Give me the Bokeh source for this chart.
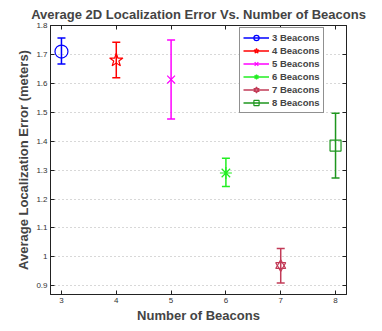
from bokeh.plotting import figure
from bokeh.models import Range1d, FixedTicker, Legend, LegendItem, LinearAxis
from bokeh.embed import file_html
from bokeh.resources import INLINE

# ---- data ----
beacons = [3, 4, 5, 6, 7, 8]
mean_err = [1.710, 1.680, 1.613, 1.290, 0.970, 1.385]
upper_err = [1.757, 1.742, 1.750, 1.341, 1.029, 1.497]
lower_err = [1.667, 1.619, 1.477, 1.243, 0.910, 1.273]
series_labels = ["3 Beacons", "4 Beacons", "5 Beacons", "6 Beacons", "7 Beacons", "8 Beacons"]
x_ticks = [3, 4, 5, 6, 7, 8]
y_ticks = [0.9, 1.0, 1.1, 1.2, 1.3, 1.4, 1.5, 1.6, 1.7, 1.8]
y_tick_labels = ["0.9", "1", "1.1", "1.2", "1.3", "1.4", "1.5", "1.6", "1.7", "1.8"]

colors = ["#0000ff", "#ff0000", "#ff00ff", "#22ee22", "#c23b57", "#1e961e"]
markers = [["circle"], ["star"], ["x"], ["asterisk"], ["triangle", "inverted_triangle"], ["square"]]
msizes = [13, 14, 11, 12, 10, 11]

FONT = "Liberation Sans"

p = figure(width=382, height=331, output_backend="svg", toolbar_location=None,
           x_range=Range1d(2.8, 8.2), y_range=Range1d(0.87, 1.8),
           min_border_left=50, min_border_right=36, min_border_top=25, min_border_bottom=37)

p.title.text = "Average 2D Localization Error Vs. Number of Beacons"
p.title.text_font = FONT
p.title.text_font_size = "13px"
p.title.text_font_style = "bold"
p.title.align = "center"
p.title.standoff = 8

p.xaxis.ticker = FixedTicker(ticks=x_ticks)
p.yaxis.ticker = FixedTicker(ticks=y_ticks)
p.yaxis.major_label_overrides = {t: l for t, l in zip(y_ticks, y_tick_labels)}
p.xaxis.axis_label = "Number of Beacons"
p.yaxis.axis_label = "Average Localization Error (meters)"
for ax in (p.xaxis[0], p.yaxis[0]):
    ax.axis_label_text_font = FONT
    ax.axis_label_text_font_size = "13px"
    ax.axis_label_text_font_style = "bold"
    ax.axis_label_standoff = 2
    ax.major_label_text_font = FONT
    ax.major_label_text_font_size = "8px"
    ax.major_label_text_color = "#333333"
    ax.major_label_standoff = 3
    ax.major_tick_in = 4
    ax.major_tick_out = 0
    ax.minor_tick_in = 0
    ax.minor_tick_out = 0
    ax.axis_line_color = "#222222"
    ax.major_tick_line_color = "#222222"

for loc, rng_ticks in (("right", y_ticks), ("above", x_ticks)):
    ax = LinearAxis(ticker=FixedTicker(ticks=rng_ticks),
                    major_label_overrides={t: "" for t in rng_ticks},
                    major_tick_in=4, major_tick_out=0, minor_tick_in=0, minor_tick_out=0,
                    major_label_standoff=0, major_label_text_font_size="1px",
                    axis_line_color="#222222", major_tick_line_color="#222222")
    p.add_layout(ax, loc)

p.xgrid.grid_line_color = None
p.ygrid.grid_line_color = "#b0b0b0"
p.ygrid.grid_line_dash = "1 3"
p.ygrid.grid_line_width = 1
p.outline_line_color = "#222222"

items = []
for i, b in enumerate(beacons):
    c = colors[i]
    seg = p.segment(x0=[b], y0=[lower_err[i]], x1=[b], y1=[upper_err[i]],
                    line_color=c, line_width=1.5)
    p.scatter(x=[b, b], y=[lower_err[i], upper_err[i]], marker="dash", size=8,
              line_color=c, line_width=1.5)
    rends = [seg]
    for m in markers[i]:
        r = p.scatter(x=[b], y=[mean_err[i]], marker=m, size=msizes[i],
                      line_color=c, fill_color=None, line_width=1.2)
        rends.append(r)
    items.append(LegendItem(label=series_labels[i], renderers=rends))

legend = Legend(items=items, location=(189, 181),
                label_text_font=FONT, label_text_font_size="9.5px",
                label_text_font_style="bold", label_height=13, glyph_height=13,
                glyph_width=26, label_standoff=3, spacing=0, padding=3, margin=0,
                border_line_color="#222222", border_line_width=1,
                background_fill_color="white", background_fill_alpha=1)
p.add_layout(legend, "center")

open("out.html", "w").write(file_html(p, INLINE))
